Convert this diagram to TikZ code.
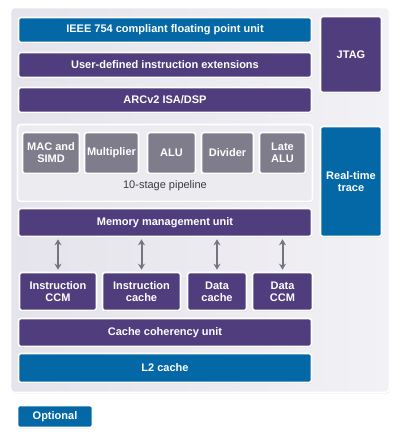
\documentclass[tikz,border=0pt]{standalone}
\usepackage{fontspec}
\setmainfont{Liberation Sans}
\usetikzlibrary{shadows,arrows.meta}
\definecolor{purp}{HTML}{4F3D7D}
\definecolor{blu}{HTML}{0468A6}
\definecolor{gry}{HTML}{7F7C8C}
\definecolor{panelL}{HTML}{E5E3EB}
\definecolor{panelR}{HTML}{F2F1F5}
\definecolor{pipefill}{HTML}{ECEBF0}
\definecolor{arr}{HTML}{77747F}
\definecolor{pipetext}{HTML}{3C3A44}
\begin{document}
\begin{tikzpicture}[x=1pt,y=-1pt,
  blk/.style={draw=white, line width=1.6pt, rounded corners=2.5pt, text=white,
    font=\fontsize{11}{12}\selectfont\bfseries, align=center, inner sep=0pt,
    drop shadow={opacity=0.22, shadow xshift=0.6pt, shadow yshift=-1.2pt}},
  pbox/.style={blk, fill=purp},
  bbox/.style={blk, fill=blu},
  gbox/.style={blk, fill=gry},
  sz/.style 2 args={minimum width=#1pt, minimum height=#2pt},
  dbl/.style={{Stealth[length=6pt,width=7pt]}-{Stealth[length=6pt,width=7pt]}, draw=arr, line width=2pt, shorten <=2pt, shorten >=2pt}
]
\useasboundingbox (0,0) rectangle (400,439);
\fill[white] (0,0) rectangle (400,439);
% outer panel
\node[draw=white, line width=1.6pt, rounded corners=4pt, inner sep=0pt,
  left color=panelL, right color=panelR, sz={379}{385},
  drop shadow={opacity=0.18, shadow xshift=0.6pt, shadow yshift=-1.2pt}] (outer) at (200,200) {};
% top bars
\node[bbox, sz={293}{25}] (fpu) at (165,30) {IEEE 754 compliant floating point unit};
\node[pbox, sz={293}{25}] (ude) at (165,65) {User-defined instruction extensions};
\node[pbox, sz={293}{25}] (arc) at (165,100) {ARCv2 ISA/DSP};
\node[pbox, sz={61}{76}] (jtag) at (351,54.5) {JTAG};
% pipeline panel
\node[draw=white, line width=1.6pt, rounded corners=3pt, fill=pipefill, inner sep=0pt, sz={295}{77},
  drop shadow={opacity=0.18, shadow xshift=0.6pt, shadow yshift=-1.2pt}] (pipe) at (165,163) {};
\node[gbox, sz={57}{41}] (mac) at (51,153) {MAC and\\SIMD};
\node[gbox, sz={54}{41}] (mult) at (111.5,153) {Multiplier};
\node[gbox, sz={48}{41}] (alu) at (171.5,153) {ALU};
\node[gbox, sz={52}{41}] (div) at (227.5,153) {Divider};
\node[gbox, sz={46}{41}] (late) at (282.5,153) {Late\\ALU};
\node[font=\fontsize{11}{12}\selectfont, text=pipetext, inner sep=0pt] (pipelabel) at (165,186) {10-stage pipeline};
\node[bbox, sz={61}{110}] (rtt) at (351,181.5) {Real-time\\trace};
% memory
\node[pbox, sz={293}{28}] (mmu) at (165,222.5) {Memory management unit};
\node[pbox, sz={77}{38}] (icc) at (58,291.5) {Instruction\\CCM};
\node[pbox, sz={78}{38}] (ica) at (141.5,291.5) {Instruction\\cache};
\node[pbox, sz={59}{38}] (dca) at (217,291.5) {Data\\cache};
\node[pbox, sz={60}{38}] (dccm) at (282.5,291.5) {Data\\CCM};
\node[pbox, sz={293}{28}] (ccu) at (165,332.5) {Cache coherency unit};
\node[bbox, sz={293}{29}] (l2) at (165,368) {L2 cache};
\node[bbox, sz={75}{22}] (opt) at (55,416.5) {Optional};
% arrows
\foreach \b in {icc,ica,dca,dccm}{
  \draw[dbl] (mmu.south -| \b.north) -- (\b.north);
}
\end{tikzpicture}
\end{document}
